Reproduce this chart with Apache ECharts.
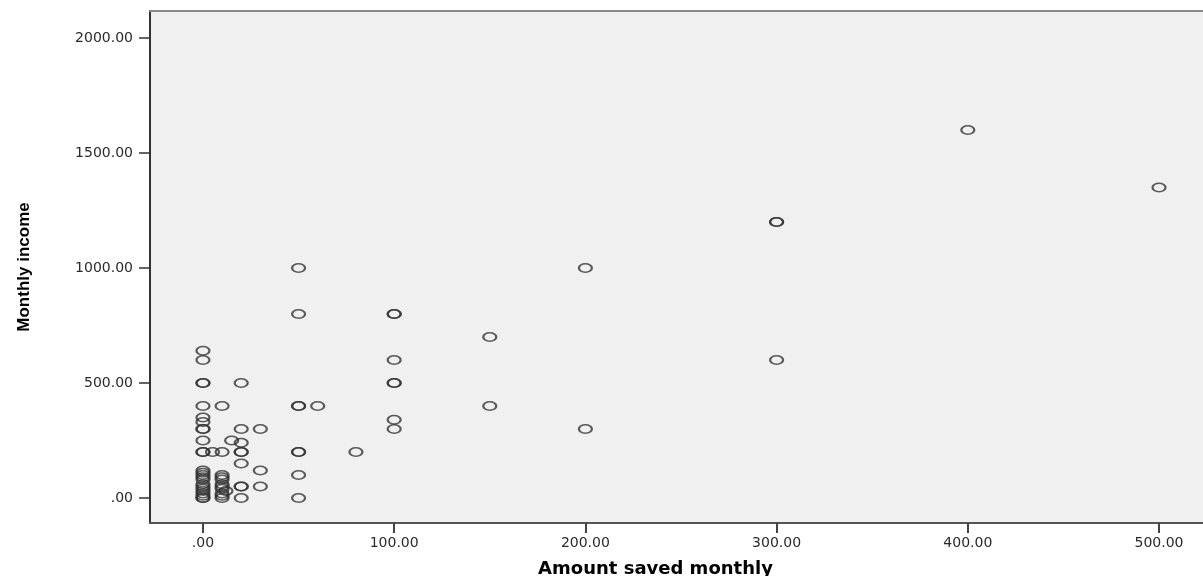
<!DOCTYPE html>
<html>
<head>
<meta charset="utf-8">
<script src="https://cdn.jsdelivr.net/npm/echarts@6/dist/echarts.min.js"></script>
<style>
html,body{margin:0;padding:0;background:#fff;}
#c{width:1203px;height:576px;}
</style>
</head>
<body>
<div id="c"></div>
<script>
// Amount saved monthly (x) and Monthly income (y), paired by index
const savedMonthly = [
  0,0,0,0,0,0,0,0,0,0,0,0,0,0,0,0,0,0,0,0,0,0,0,0,0,
  5,
  10,10,10,10,10,10,10,10,10,10,10,
  12,
  15,
  20,20,20,20,20,20,20,20,20,
  30,30,30,
  50,50,50,50,50,50,50,50,
  60,
  80,
  100,100,100,100,100,100,100,
  150,150,
  200,200,
  300,300,300,
  400,
  500
];
const monthlyIncome = [
  640,600,500,500,400,350,330,300,300,250,200,200,120,110,100,90,80,60,50,40,30,20,10,0,0,
  200,
  400,200,100,90,80,60,50,40,20,10,0,
  30,
  250,
  500,300,240,200,200,150,50,50,0,
  300,120,50,
  1000,800,400,400,200,200,100,0,
  400,
  200,
  800,800,600,500,500,340,300,
  700,400,
  1000,300,
  1200,1200,600,
  1600,
  1350
];
const xTicks = [0,100,200,300,400,500];
const yTicks = [0,500,1000,1500,2000];
const xTitle = 'Amount saved monthly';
const yTitle = 'Monthly income';

const points = savedMonthly.map((x,i)=>[x, monthlyIncome[i]]);
const fmt = v => v === 0 ? '.00' : Number(v).toFixed(2);

const chart = echarts.init(document.getElementById('c'), null, {renderer:'canvas'});
chart.setOption({
  animation:false,
  backgroundColor:'#ffffff',
  grid:{left:150, right:0, top:11, bottom:53, show:true, backgroundColor:'#f0f0f0', borderWidth:0, containLabel:false, outerBoundsMode:'none'},
  xAxis:[{
    type:'value', min:-27.7, max:523, position:'bottom',
    splitLine:{show:false},
    axisLine:{show:true, onZero:false, lineStyle:{color:'#555', width:2}},
    axisTick:{show:true, length:10, customValues:xTicks, lineStyle:{color:'#444', width:2}},
    axisLabel:{customValues:xTicks, formatter:fmt, margin:13, color:'#2a2a2a', fontFamily:'DejaVu Sans', fontSize:14},
    name:xTitle, nameLocation:'middle', nameGap:37,
    nameTextStyle:{fontFamily:'DejaVu Sans', fontWeight:'bold', fontSize:18, color:'#000', padding:[0,42,0,0]}
  },{
    type:'value', min:-27.7, max:523, position:'top',
    splitLine:{show:false},
    axisLine:{show:true, onZero:false, lineStyle:{color:'#888', width:2}},
    axisTick:{show:false}, axisLabel:{show:false}
  }],
  yAxis:{
    type:'value', min:-108.7, max:2117.4,
    splitLine:{show:false},
    axisLine:{show:true, onZero:false, lineStyle:{color:'#333', width:2}},
    axisTick:{show:true, length:11, customValues:yTicks, lineStyle:{color:'#333', width:1.5}},
    axisLabel:{customValues:yTicks, formatter:fmt, margin:17, color:'#2a2a2a', fontFamily:'DejaVu Sans', fontSize:14},
    name:yTitle, nameLocation:'middle', nameGap:117,
    nameTextStyle:{fontFamily:'Liberation Sans', fontWeight:'bold', fontSize:17, color:'#000'}
  },
  series:[{
    type:'scatter',
    xAxisIndex:0,
    data:points,
    symbol:'circle',
    symbolSize:[13,8.5],
    itemStyle:{color:'rgba(0,0,0,0)', borderColor:'#333', borderWidth:1.8},
    emphasis:{disabled:true}
  }]
});
</script>
</body>
</html>
